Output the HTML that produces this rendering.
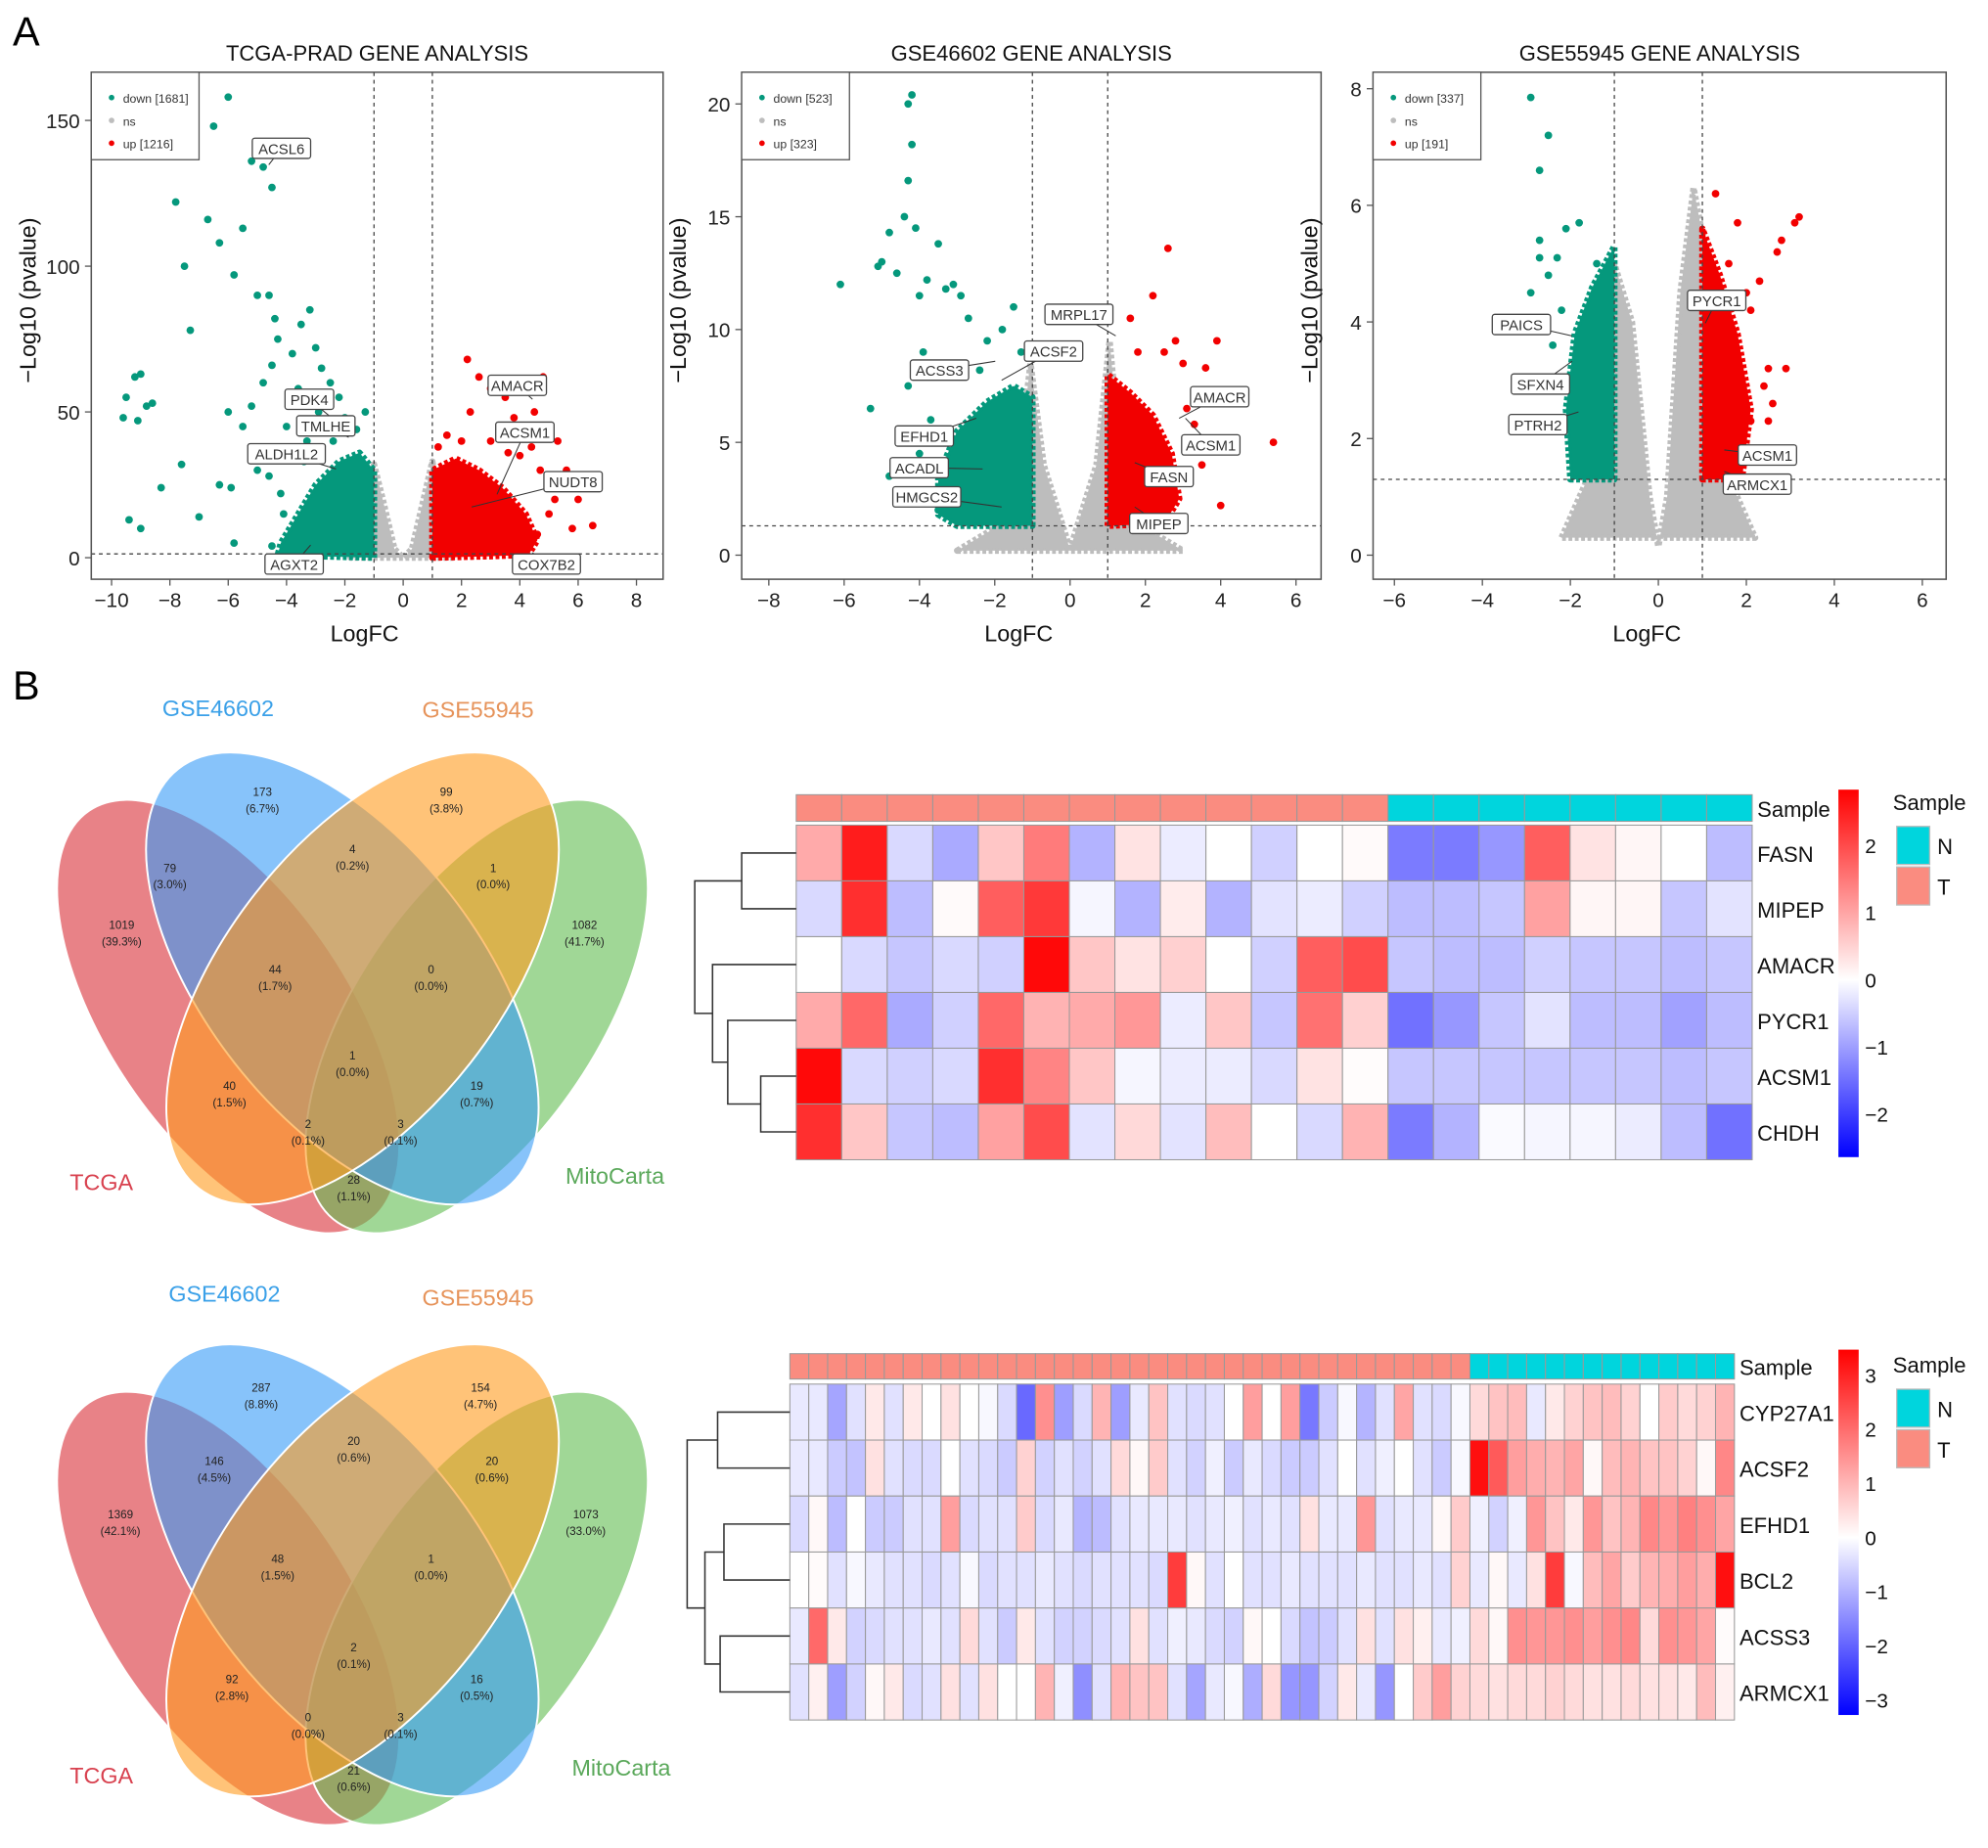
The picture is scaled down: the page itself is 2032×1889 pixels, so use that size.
<!DOCTYPE html>
<html><head><meta charset="utf-8"><style>
html,body{margin:0;padding:0;background:#fff;}
svg{display:block;font-family:"Liberation Sans",Arial,sans-serif;}
</style></head><body>
<svg id="fig" xmlns="http://www.w3.org/2000/svg" width="2032" height="1889" viewBox="0 0 1568 1458" preserveAspectRatio="none">
<rect width="1568" height="1458" fill="#fff"/>
<text x="10" y="36" font-size="32">A</text>
<text x="10" y="552" font-size="32">B</text>
</svg>
<script>
// ---------- DATA ----------
const v1Green=[[-9.5,55],[-9.2,62],[-9,63],[-8.8,52],[-9.6,48],[-9.1,47],[-8.6,53],[-9.4,13],[-9,10],[-8.3,24],[-7.8,122],[-7.5,100],[-7.3,78],[-7.6,32],[-7.0,14],[-6.7,116],[-6.5,148],[-6.3,108],[-6,158],[-5.8,97],[-5.5,113],[-5.2,136],[-4.8,134],[-4.5,127],[-5.0,90],[-4.6,90],[-4.4,82],[-4.3,75],[-4.5,66],[-4.8,60],[-5.2,52],[-5.5,45],[-6.0,50],[-6.3,25],[-5.9,24],[-5,30],[-4.2,22],[-5.8,5],[-4.5,4],[-3.8,70],[-3.5,80],[-3.2,85],[-3.0,72],[-2.8,65],[-2.5,60],[-2.2,55],[-3.3,40],[-4,45],[-3.6,58],[-2.9,50],[-2.6,45],[-2.0,48],[-1.6,44],[-3.9,35],[-3.4,33],[-4.6,28],[-4.1,15],[-1.3,50],[-2.4,40]];
const v1Red=[[2.2,68],[2.6,62],[3,58],[3.5,55],[4.2,60],[4.8,62],[4.5,50],[3.8,48],[5.3,40],[5.6,30],[6,20],[5,15],[5.8,10],[6.5,11],[4.6,8],[2.3,50],[3,40],[4,35],[5,25],[4.4,38],[1.5,42],[2.0,40],[3.6,36],[4.7,30],[5.2,20],[1.2,38]];
const v1Grey=[[-1.8,0],[-1.3,15],[-1,32],[-0.7,20],[-0.3,3],[0,0],[0.3,3],[0.7,20],[1,33],[1.3,15],[1.8,0]];
const v1GreenCloud=[[-1,0],[-1,30],[-1.5,36],[-2.2,33],[-3,25],[-3.6,15],[-4.2,5],[-4.3,1],[-3,0.5]];
const v1RedCloud=[[1,0],[1,30],[1.8,34],[2.6,30],[3.4,24],[4.2,15],[4.6,6],[4.3,1],[3,0.5]];
const v2Green=[[-4.2,20.4],[-4.3,20],[-4.2,18.2],[-4.3,16.6],[-4.4,15],[-4.1,14.5],[-4.8,14.3],[-5.0,13],[-5.1,12.8],[-6.1,12],[-4.6,12.5],[-3.5,13.8],[-3.8,12.2],[-3.3,11.8],[-4.0,11.5],[-3.1,12],[-2.9,11.5],[-5.3,6.5],[-4.8,3.5],[-3.5,2],[-2.2,9.5],[-1.8,10],[-1.5,11],[-2.7,10.5],[-3.9,9],[-4.3,7.5],[-3.0,8.5],[-2.4,8.2],[-3.7,6],[-1.3,9],[-4.0,4.5]];
const v2Red=[[2.6,13.6],[2.2,11.5],[1.6,10.5],[2.8,9.5],[3,8.5],[3.9,9.5],[3.3,7.3],[4.0,6.8],[5.4,5],[3.5,4],[4,2.2],[3.3,5.8],[2.5,9],[3.6,8.3],[1.8,9],[3.1,6.5],[2.9,3.5]];
const v2Grey=[[-3,0.2],[-2,1.2],[-1.3,5],[-1.05,8.5],[-0.7,4],[-0.1,0.8],[0,0.2],[0.1,0.8],[0.7,4],[1.05,9.5],[1.3,5],[2,1.2],[3,0.2]];
const v2GreenCloud=[[-1,1.3],[-1,7],[-1.5,7.5],[-2.2,6.8],[-3,5.5],[-3.5,3.5],[-3.5,1.8],[-3,1.3]];
const v2RedCloud=[[1,1.3],[1,8],[1.6,7.2],[2.2,6.2],[2.7,4.5],[2.9,2.5],[2.5,1.4]];
const v3Green=[[-2.9,7.85],[-2.5,7.2],[-2.7,6.6],[-1.8,5.7],[-2.1,5.6],[-2.7,5.4],[-2.7,5.1],[-2.3,5.1],[-1.4,5],[-2.5,4.8],[-2.9,4.5],[-2.2,4.2],[-2.4,3.6]];
const v3Red=[[3.2,5.8],[3.1,5.7],[2.8,5.4],[2.7,5.2],[1.3,6.2],[1.8,5.7],[1.6,5],[2.3,4.7],[2.0,4.5],[2.1,4.2],[2.9,3.2],[2.5,3.2],[2.4,2.9],[2.6,2.6],[2.5,2.3],[2.1,2.3]];
const v3Grey=[[-2.2,0.3],[-1.5,1.5],[-1,5],[-0.6,4],[-0.2,1],[0,0.15],[0.2,1],[0.5,4.5],[0.8,6.3],[1,5.5],[1.5,1.5],[2.2,0.3]];
const v3GreenCloud=[[-1,1.3],[-1,5.3],[-1.5,4.6],[-1.9,3.8],[-2.1,2.5],[-2,1.3]];
const v3RedCloud=[[1,1.3],[1,5.6],[1.4,4.8],[1.8,3.8],[2.1,2.5],[1.9,1.3]];
const v1Ticks=[-10,-8,-6,-4,-2,0,2,4,6,8];
const v1YTicks=[0,50,100,150];
const v2Ticks=[-8,-6,-4,-2,0,2,4,6];
const v2YTicks=[0,5,10,15,20];
const v3Ticks=[-6,-4,-2,0,2,4,6];
const v3YTicks=[0,2,4,6,8];

const hm1Genes=["FASN","MIPEP","AMACR","PYCR1","ACSM1","CHDH"];
const hm1Groups=["T","T","T","T","T","T","T","T","T","T","T","T","T","N","N","N","N","N","N","N","N"];
const hm1FASN=[0.9,2.4,-0.4,-0.9,0.6,1.4,-0.8,0.3,-0.2,0,-0.5,0,0.05,-1.4,-1.4,-1.1,1.7,0.3,0.1,0,-0.7];
const hm1MIPEP=[-0.4,2.2,-0.7,0.05,1.7,2.1,-0.1,-0.8,0.2,-0.8,-0.3,-0.2,-0.5,-0.7,-0.7,-0.6,1.0,0.1,0.1,-0.6,-0.3];
const hm1AMACR=[0,-0.4,-0.6,-0.4,-0.5,2.6,0.6,0.3,0.5,0,-0.5,1.7,1.9,-0.6,-0.7,-0.7,-0.5,-0.6,-0.6,-0.7,-0.6];
const hm1PYCR1=[0.9,1.6,-0.9,-0.5,1.6,0.8,0.9,1.1,-0.2,0.6,-0.6,1.5,0.5,-1.5,-1.1,-0.6,-0.3,-0.7,-0.7,-1.0,-0.7];
const hm1ACSM1=[2.6,-0.4,-0.5,-0.4,2.2,1.3,0.6,-0.1,-0.2,-0.2,-0.4,0.3,0.03,-0.6,-0.6,-0.6,-0.6,-0.6,-0.6,-0.7,-0.6];
const hm1CHDH=[2.2,0.6,-0.6,-0.7,1.0,1.9,-0.3,0.4,-0.3,0.7,0,-0.4,0.8,-1.4,-0.8,-0.05,-0.1,-0.1,-0.2,-0.7,-1.5];
const hm1CbTicks=[2,1,0,-1,-2];

const hm2Genes=["CYP27A1","ACSF2","EFHD1","BCL2","ACSS3","ARMCX1"];
const hm2NT=36, hm2NN=14;
const hm2CYP27A1=[-0.3,-0.3,-1.2,-0.4,0.3,-0.4,0.3,0,0.4,0,-0.1,-0.5,-2.0,1.5,-1.3,-0.5,1.0,-1.3,-0.3,0.8,-0.4,-0.5,-0.4,0,1.3,0,1.3,-1.8,-0.7,-0.1,-1.0,-0.4,1.2,-0.4,-0.5,-0.1,0.5,0.8,0.9,-0.3,0.3,0.6,0.8,0.9,0.6,0,0.7,0.5,0.6,1.0];
const hm2ACSF2=[-0.3,-0.3,-0.7,-0.8,0.4,-0.4,-0.5,-0.5,0,-0.4,-0.5,-0.7,0.6,-0.6,-0.4,-0.6,-0.4,0.5,0.1,0.7,-0.4,-0.6,-0.2,-0.7,-0.3,-0.5,-0.7,-0.7,-0.4,0,-0.4,-0.2,0,-0.4,-0.7,-0.1,3.2,2.2,1.3,1.1,1.0,1.2,0.1,0.9,1.0,0.8,0.8,0.6,0.1,1.6];
const hm2EFHD1=[-0.5,0.1,-0.9,0,-0.7,-0.7,-0.4,-0.4,1.3,-0.5,-0.4,-0.4,0.7,-0.5,-0.3,-1.0,-0.9,-0.4,-0.3,-0.3,-0.3,-0.4,-0.3,-0.2,-0.4,-0.3,-0.4,0.4,-0.3,-0.3,1.4,-0.4,-0.3,-0.3,0.1,0.7,-0.2,-0.6,-0.2,1.4,0.8,0.3,1.4,0.8,1.0,1.6,1.4,1.7,1.5,1.2];
const hm2BCL2=[0,0.05,-0.4,-0.1,-0.3,-0.4,-0.4,-0.5,-0.4,-0.1,-0.5,-0.4,-0.4,-0.3,-0.4,-0.5,-0.4,-0.4,-0.4,-0.5,2.6,0.1,-0.4,0,-0.4,-0.4,-0.3,-0.4,-0.4,-0.4,-0.3,-0.4,-0.4,-0.3,-0.4,0.6,-0.3,0.1,-0.3,0.4,2.6,-0.1,0.9,1.2,0.7,1.0,1.1,1.3,1.1,3.2];
const hm2ACSS3=[-0.3,2.0,0.3,-0.6,-0.5,-0.4,-0.4,-0.3,-0.4,0.5,-0.4,-0.7,0.3,-0.4,-0.6,-0.6,-0.5,-0.4,0.4,-0.4,-0.2,-0.3,-0.5,-0.6,0.1,0,-0.5,-0.8,-0.7,-0.4,0.4,-0.4,0.4,0.2,-0.3,-0.2,0.5,0.1,1.5,1.4,1.4,1.5,1.3,1.5,1.6,0.5,1.5,1.4,1.2,0.05];
const hm2ARMCX1=[-0.4,0.2,-1.3,-0.6,0.1,0.3,-0.5,-0.4,0.4,-0.4,0.4,0,0,1.0,-0.2,-1.5,-0.4,1.0,0.8,0.8,-0.4,-1.2,-0.3,-0.1,-1.1,0.5,-1.4,-1.4,-0.6,0.3,-0.3,-1.4,0,0.7,1.3,0.6,0.5,0.4,0.5,0.5,0.6,0.5,0.4,0.4,0.5,0.4,0.4,0.3,0.9,0.2];
const hm2CbTicks=[3,2,1,0,-1,-2,-3];

const venn1Counts=[["173","(6.7%)",207,630],["99","(3.8%)",352,630],["79","(3.0%)",134,690],["4","(0.2%)",278,675],["1","(0.0%)",389,690],["1019","(39.3%)",96,735],["1082","(41.7%)",461,735],["44","(1.7%)",217,770],["0","(0.0%)",340,770],["1","(0.0%)",278,838],["40","(1.5%)",181,862],["19","(0.7%)",376,862],["2","(0.1%)",243,892],["3","(0.1%)",316,892],["28","(1.1%)",279,936]];
const venn2Counts=[["287","(8.8%)",206,1100],["154","(4.7%)",379,1100],["146","(4.5%)",169,1158],["20","(0.6%)",279,1142],["20","(0.6%)",388,1158],["1369","(42.1%)",95,1200],["1073","(33.0%)",462,1200],["48","(1.5%)",219,1235],["1","(0.0%)",340,1235],["2","(0.1%)",279,1305],["92","(2.8%)",183,1330],["16","(0.5%)",376,1330],["0","(0.0%)",243,1360],["3","(0.1%)",316,1360],["21","(0.6%)",279,1402]];

// ---------- HELPERS ----------
const NS="http://www.w3.org/2000/svg";
const svg=document.getElementById('fig');
function el(tag,attrs,parent){const e=document.createElementNS(NS,tag);for(const k in attrs)e.setAttribute(k,attrs[k]);(parent||svg).appendChild(e);return e;}
function txt(s,attrs,parent){const e=el('text',attrs,parent);e.textContent=s;return e;}

// ---------- VOLCANO ----------
function volcano(cfg,greenPts,redPts,greyPoly,greenPoly,redPoly,xt,yt,legend,labels){
  const g=el('g',{});
  
  
  const X=v=>cfg.x0+cfg.sx*v, Y=v=>cfg.y0-cfg.sy*v;
  const poly=(pts,c,nm)=>{const p=el('polygon',{points:pts.map(d=>X(d[0])+','+Y(d[1])).join(' '),fill:c,stroke:c,'stroke-width':5,'stroke-dasharray':'3,2','stroke-linejoin':'round'},g);
    
    };
  poly(greyPoly,'#bdbdbd','ns-cloud');
  poly(greenPoly,'#05987c','down-cloud');
  poly(redPoly,'#f20000','up-cloud');
  greenPts.forEach(d=>{const c=el('circle',{cx:X(d[0]),cy:Y(d[1]),r:3,fill:'#05987c'},g);
    
    });
  redPts.forEach(d=>{const c=el('circle',{cx:X(d[0]),cy:Y(d[1]),r:3,fill:'#f20000'},g);
    
    });
  [-1,1].forEach(v=>el('line',{x1:X(v),x2:X(v),y1:cfg.top,y2:cfg.bot,stroke:'#444','stroke-dasharray':'3,3','stroke-width':1},g));
  el('line',{x1:cfg.left,x2:cfg.right,y1:Y(1.3),y2:Y(1.3),stroke:'#444','stroke-dasharray':'3,3','stroke-width':1},g);
  const box=el('rect',{x:cfg.left,y:cfg.top,width:cfg.right-cfg.left,height:cfg.bot-cfg.top,fill:'none',stroke:'#555','stroke-width':1.2},g);
  
  
  xt.forEach(v=>{el('line',{x1:X(v),x2:X(v),y1:cfg.bot,y2:cfg.bot+5,stroke:'#555'},g);
    const t=txt(v<0?'\u2212'+(-v):String(v),{x:X(v),y:cfg.bot+22,'font-size':16,'text-anchor':'middle',fill:'#222'},g);
    
    });
  yt.forEach(v=>{el('line',{x1:cfg.left-5,x2:cfg.left,y1:Y(v),y2:Y(v),stroke:'#555'},g);
    const t=txt(String(v),{x:cfg.left-9,y:Y(v)+6,'font-size':16,'text-anchor':'end',fill:'#222'},g);
    
    });
  const ti=txt(cfg.title,{x:(cfg.left+cfg.right)/2,y:48,'font-size':17,'text-anchor':'middle',fill:'#111'},g);
  
  
  const xl=txt('LogFC',{x:(cfg.left+cfg.right)/2-10,y:506,'font-size':18,'text-anchor':'middle',fill:'#111'},g);
  
  
  const yl=txt('\u2212Log10 (pvalue)',{x:0,y:0,'font-size':18,'text-anchor':'middle',fill:'#111',transform:`translate(${cfg.left-44},${(cfg.top+cfg.bot)/2-20}) rotate(-90)`},g);
  
  
  const lg=el('g',{},g);
  
  
  el('rect',{x:cfg.left,y:cfg.top,width:85,height:69,fill:'#fff',stroke:'#555'},lg);
  [['#05987c',legend[0]],['#bdbdbd','ns'],['#f20000',legend[1]]].forEach((d,i)=>{
    el('circle',{cx:cfg.left+16,cy:cfg.top+20+i*18,r:2.2,fill:d[0]},lg);
    const t=txt(d[1],{x:cfg.left+25,y:cfg.top+24+i*18,'font-size':9.5,fill:'#333'},lg);
    
    });
  labels.forEach(l=>{
    const w=l[0].length*7.6+8;
    el('line',{x1:l[1],y1:l[2],x2:l[3],y2:l[4],stroke:'#333','stroke-width':0.8},g);
    el('rect',{x:l[1]-w/2,y:l[2]-8,width:w,height:16,fill:'#fff',stroke:'#444',rx:2},g);
    const t=txt(l[0],{x:l[1],y:l[2]+4.5,'font-size':11.5,'text-anchor':'middle',fill:'#333'},g);
    
    });
}
volcano({name:'volcano-tcga',x0:318,sx:23,y0:440,sy:2.3,left:72,right:523,top:57,bot:457,title:'TCGA-PRAD GENE ANALYSIS'},
 v1Green,v1Red,v1Grey,v1GreenCloud,v1RedCloud,v1Ticks,v1YTicks,['down [1681]','up [1216]'],
 [['ACSL6',222,117,212,130],['PDK4',244,315,262,330],['TMLHE',257,336,275,345],['ALDH1L2',226,358,265,370],['AGXT2',232,445,245,430],['AMACR',408,304,420,315],['ACSM1',414,341,392,390],['NUDT8',452,380,372,400],['COX7B2',431,445,420,436]]);
volcano({name:'volcano-gse46602',x0:844,sx:29.7,y0:438,sy:17.8,left:585,right:1042,top:57,bot:457,title:'GSE46602 GENE ANALYSIS'},
 v2Green,v2Red,v2Grey,v2GreenCloud,v2RedCloud,v2Ticks,v2YTicks,['down [523]','up [323]'],
 [['MRPL17',851,248,880,265],['ACSF2',831,277,790,300],['ACSS3',741,292,785,285],['EFHD1',729,344,770,330],['ACADL',725,369,775,370],['HMGCS2',731,392,790,400],['AMACR',962,313,930,330],['ACSM1',955,351,935,330],['FASN',922,376,895,365],['MIPEP',914,413,895,400]]);
volcano({name:'volcano-gse55945',x0:1308,sx:34.7,y0:438,sy:46,left:1083,right:1535,top:57,bot:457,title:'GSE55945 GENE ANALYSIS'},
 v3Green,v3Red,v3Grey,v3GreenCloud,v3RedCloud,v3Ticks,v3YTicks,['down [337]','up [191]'],
 [['PYCR1',1354,237,1345,255],['PAICS',1200,256,1240,265],['SFXN4',1215,303,1240,285],['PTRH2',1213,335,1245,325],['ACSM1',1394,359,1360,355],['ARMCX1',1386,382,1360,372]]);

// ---------- VENN ----------
function venn(dy,counts,nm,labPos){
  const g=el('g',{});
  
  
  const ells=[[180,802,95,196,-34,'#d92f37','tcga-ellipse'],[376,802,95,196,34,'#61bc50','mitocarta-ellipse'],[270,772,108,210,-38,'#379bf7','gse46602-ellipse'],[286,772,108,210,38,'#ff9b1e','gse55945-ellipse']];
  ells.forEach(e=>{const cy=e[1]+dy;const c=el('ellipse',{cx:e[0],cy:cy,rx:e[2],ry:e[3],transform:`rotate(${e[4]} ${e[0]} ${cy})`,fill:e[5],'fill-opacity':0.6,stroke:'#fff','stroke-width':1.5},g);
    
    });
  counts.forEach(c=>{
    const t1=txt(c[0],{x:c[2],y:c[3]-2,'font-size':9,'text-anchor':'middle',fill:'#222'},g);
    
    
    const t2=txt(c[1],{x:c[2],y:c[3]+11,'font-size':9,'text-anchor':'middle',fill:'#222'},g);
    
    });
  labPos.forEach(l=>{const t=txt(l[0],{x:l[1],y:l[2],'font-size':18,'text-anchor':'middle',fill:l[3]},g);
    
    });
}
venn(0,venn1Counts,'venn-top',[['GSE46602',172,565,'#3aa0e8'],['GSE55945',377,566,'#e6935a'],['TCGA',80,939,'#d8404e'],['MitoCarta',485,934,'#5aa85a']]);
venn(467,venn2Counts,'venn-bottom',[['GSE46602',177,1027,'#3aa0e8'],['GSE55945',377,1030,'#e6935a'],['TCGA',80,1407,'#d8404e'],['MitoCarta',490,1401,'#5aa85a']]);

// ---------- HEATMAPS ----------
function col(v,m){let t=Math.max(-1,Math.min(1,v/m));
  if(t>=0){const c=Math.round(255*(1-t));return `rgb(255,${c},${c})`;}
  const c=Math.round(255*(1+t));return `rgb(${c},${c},255)`;}
function heatmap(cfg,genes,rows,groups,cbTicks){
  const g=el('g',{});
  
  
  const n=groups.length, cw=(cfg.x1-cfg.x0)/n, rh=(cfg.y1-cfg.y0)/genes.length;
  groups.forEach((s,i)=>{const r=el('rect',{x:cfg.x0+i*cw,y:cfg.sy0,width:cw,height:cfg.sy1-cfg.sy0,fill:s==='T'?'#fa8c80':'#00d5dd',stroke:'#999','stroke-width':0.8},g);
    
    });
  rows.forEach((row,ri)=>{row.forEach((v,ci)=>{const r=el('rect',{x:cfg.x0+ci*cw,y:cfg.y0+ri*rh,width:cw,height:rh,fill:col(v,cfg.m),stroke:'#999','stroke-width':0.8},g);
      
      });
    const t=txt(genes[ri],{x:cfg.x1+4,y:cfg.y0+ri*rh+rh/2+7,'font-size':17,fill:'#111'},g);
    
    });
  const st=txt('Sample',{x:cfg.x1+4,y:(cfg.sy0+cfg.sy1)/2+7,'font-size':17,fill:'#111'},g);
  
  
  const rc=i=>cfg.y0+i*rh+rh/2;
  const dl=(pts)=>el('polyline',{points:pts.map(p=>p.join(',')).join(' '),fill:'none',stroke:'#333','stroke-width':1.2},g);
  cfg.dendro(rc,dl,cfg.x0);
  const gid=cfg.name+'-grad';
  const defs=el('defs',{},g);const lgd=el('linearGradient',{id:gid,x1:0,y1:0,x2:0,y2:1},defs);
  [[0,1],[cfg.cbMax/(cfg.cbMax-cfg.cbMin),0],[1,-1]].forEach(s=>el('stop',{offset:s[0],'stop-color':s[1]>0?'#ff0000':s[1]<0?'#0000ff':'#ffffff'},lgd));
  const cb=el('rect',{x:1450,y:cfg.cb0-cfg.cbs*cfg.cbMax,width:16,height:cfg.cbs*(cfg.cbMax-cfg.cbMin),fill:`url(#${gid})`},g);
  
  
  cbTicks.forEach(v=>{const t=txt(v<0?'\u2212'+(-v):String(v),{x:1471,y:cfg.cb0-cfg.cbs*v+6,'font-size':16,fill:'#111'},g);
    
    });
  const lt=txt('Sample',{x:1493,y:cfg.legY,'font-size':17,fill:'#111'},g);
  
  
  [['N','#00d5dd'],['T','#fa8c80']].forEach((d,i)=>{
    el('rect',{x:1496,y:cfg.legY+13+i*32,width:26,height:30,fill:d[1],stroke:'#bbb'},g);
    const t=txt(d[0],{x:1528,y:cfg.legY+35+i*32,'font-size':17,fill:'#111'},g);
    
    });
}
heatmap({name:'heatmap-top',x0:628,x1:1382,sy0:627,sy1:648,y0:651,y1:915,m:2.7,cb0:773,cbs:53,cbMax:2.83,cbMin:-2.64,legY:639,
  dendro:(rc,dl,x0)=>{dl([[x0,rc(0)],[585,rc(0)],[585,rc(1)],[x0,rc(1)]]);
    dl([[x0,rc(4)],[600,rc(4)],[600,rc(5)],[x0,rc(5)]]);
    dl([[x0,rc(3)],[574,rc(3)],[574,(rc(4)+rc(5))/2],[600,(rc(4)+rc(5))/2]]);
    const m1=(rc(3)+(rc(4)+rc(5))/2)/2;
    dl([[x0,rc(2)],[562,rc(2)],[562,m1],[574,m1]]);
    const m2=(rc(2)+m1)/2;
    dl([[585,(rc(0)+rc(1))/2],[548,(rc(0)+rc(1))/2],[548,m2],[562,m2]]);}},
  hm1Genes,[hm1FASN,hm1MIPEP,hm1AMACR,hm1PYCR1,hm1ACSM1,hm1CHDH],hm1Groups,hm1CbTicks);
const hm2Groups=[];for(let i=0;i<hm2NT;i++)hm2Groups.push('T');for(let i=0;i<hm2NN;i++)hm2Groups.push('N');
heatmap({name:'heatmap-bottom',x0:623,x1:1368,sy0:1068,sy1:1088,y0:1092,y1:1357,m:3.4,cb0:1213,cbs:42.7,cbMax:3.47,cbMin:-3.28,legY:1083,
  dendro:(rc,dl,x0)=>{dl([[x0,rc(0)],[566,rc(0)],[566,rc(1)],[x0,rc(1)]]);
    dl([[x0,rc(2)],[571,rc(2)],[571,rc(3)],[x0,rc(3)]]);
    dl([[x0,rc(4)],[568,rc(4)],[568,rc(5)],[x0,rc(5)]]);
    const a=(rc(2)+rc(3))/2,b=(rc(4)+rc(5))/2;
    dl([[571,a],[556,a],[556,b],[568,b]]);
    const m=(a+b)/2,t=(rc(0)+rc(1))/2;
    dl([[566,t],[542,t],[542,m],[556,m]]);}},
  hm2Genes,[hm2CYP27A1,hm2ACSF2,hm2EFHD1,hm2BCL2,hm2ACSS3,hm2ARMCX1],hm2Groups,hm2CbTicks);
</script>
</body></html>
